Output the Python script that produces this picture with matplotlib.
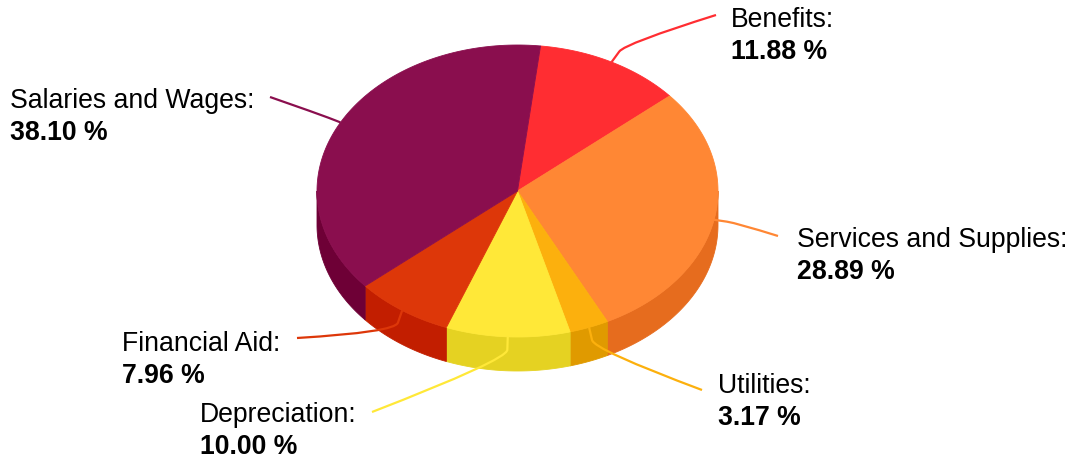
import numpy as np
import matplotlib.pyplot as plt
from matplotlib.patches import Polygon, PathPatch
from matplotlib.path import Path

plt.rcParams['font.family'] = ['Liberation Sans', 'DejaVu Sans']

# Expense breakdown, clockwise from the top
categories = ['Benefits', 'Services and Supplies', 'Utilities',
              'Depreciation', 'Financial Aid', 'Salaries and Wages']
shares = [11.88, 28.89, 3.17, 10.00, 7.96, 38.10]
top_colors = ['#ff2d32', '#ff8734', '#fcb00d', '#ffe838', '#dd3709', '#8a0e4e']
side_colors = ['#e0161c', '#e66c1e', '#e09a00', '#e5d222', '#c21e00', '#6e0036']

# label anchor (left edge of text, centre of first line) and connector end
label_pos = [(731, 20), (797, 240), (718, 386), (200, 415), (122, 344), (10, 101)]
conn_end = [(716, 16), (778, 237), (702, 391), (372, 413), (297, 339), (270, 98)]

# projected pie geometry in pixels
cx, cy = 517.5, 192.0
rx, ry = 200.5, 146.0
depth = 34.0
start_deg = 6.6

fig = plt.figure(figsize=(10.73, 4.64), dpi=100)
ax = fig.add_axes([0, 0, 1, 1])
ax.set_xlim(0, 1073)
ax.set_ylim(464, 0)
ax.axis('off')


def rim(theta_deg, dz=0.0):
    t = np.radians(theta_deg)
    return cx + rx * np.sin(t), cy - ry * np.cos(t) + dz


bounds = start_deg + np.concatenate([[0], np.cumsum(shares)]) * 3.6

# side walls: only the front half (90..270 deg) is visible
for i in range(len(shares)):
    a0, a1 = bounds[i], bounds[i + 1]
    for lo, hi in [(90, 270), (450, 630)]:
        s0, s1 = max(a0, lo), min(a1, hi)
        if s1 <= s0:
            continue
        th = np.linspace(s0, s1, 80)
        xt, yt = rim(th)
        xb, yb = rim(th[::-1], depth)
        pts = np.column_stack([np.concatenate([xt, xb]), np.concatenate([yt, yb])])
        ax.add_patch(Polygon(pts, closed=True, facecolor=side_colors[i],
                             edgecolor=side_colors[i], lw=0.6, zorder=1))

# top faces
for i in range(len(shares)):
    th = np.linspace(bounds[i], bounds[i + 1], 120)
    xt, yt = rim(th)
    pts = np.column_stack([np.concatenate([[cx], xt]), np.concatenate([[cy], yt])])
    ax.add_patch(Polygon(pts, closed=True, facecolor=top_colors[i],
                         edgecolor=top_colors[i], lw=0.6, zorder=2))

# connectors and labels
for i, name in enumerate(categories):
    mid = (bounds[i] + bounds[i + 1]) / 2
    x0, y0 = rim(mid)
    t = np.radians(mid)
    d = np.array([np.sin(t), -np.cos(t) * ry / rx])
    d = d / np.hypot(*d)
    if d[1] > 0.5:
        d = np.array([d[0] * 0.5, 1.0])
        d = d / np.hypot(*d)
    p1 = np.array([x0, y0]) + d * 13
    ctrl = p1 + d * 10
    path = Path([(x0, y0), tuple(p1), tuple(ctrl), conn_end[i]],
                [Path.MOVETO, Path.LINETO, Path.CURVE3, Path.CURVE3])
    ax.add_patch(PathPatch(path, facecolor='none', edgecolor=top_colors[i],
                           lw=1.6, zorder=3))
    lx, ly = label_pos[i]
    ax.text(lx, ly, name + ':', fontsize=19.2, color='black',
            ha='left', va='center', zorder=4)
    ax.text(lx, ly + 32, '%.2f %%' % shares[i], fontsize=19.2, color='black',
            fontweight='bold', ha='left', va='center', zorder=4)

fig.savefig('out.png', dpi=100)
